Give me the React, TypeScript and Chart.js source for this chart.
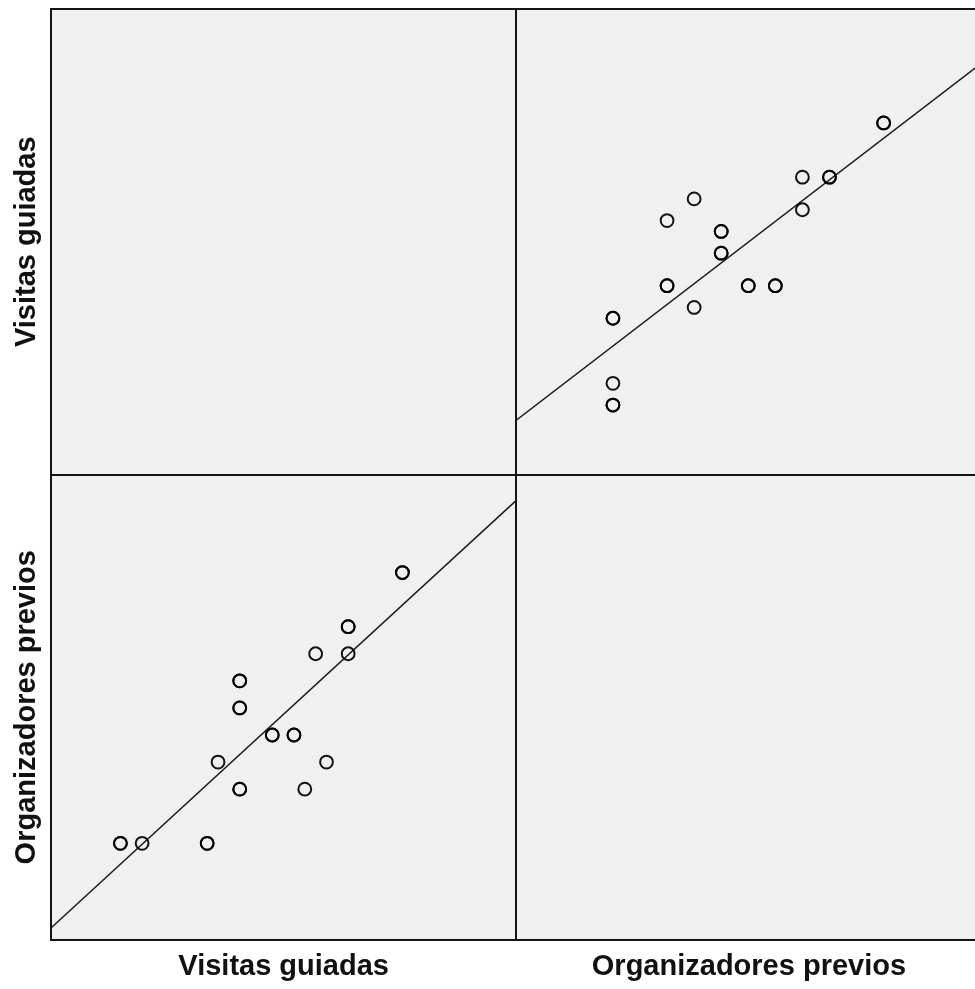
import React, { useEffect, useRef } from "react";
import { Chart, registerables } from "chart.js";

Chart.register(...registerables);

// Variable names (axis titles of the scatterplot matrix)
const variableNames = ["Visitas guiadas", "Organizadores previos"];

// One entry per case (overlapping cases are drawn on top of each other)
const visitasGuiadas = [0, 0, 2, 8, 8, 11, 11, 11, 11, 11, 11, 17, 9, 19, 14, 14, 16, 16, 18, 21, 21, 21, 26, 26];
const organizadoresPrevios = [0, 0, 0, 0, 0, 2, 2, 5, 5, 6, 6, 2, 3, 3, 4, 4, 4, 4, 7, 7, 8, 8, 10, 10];

// Axis ranges of each variable
const visitasRange = [-6.4, 36.5];
const organizadoresRange = [-3.57, 13.62];

function fitLine(xs: number[], ys: number[], range: number[]) {
  const n = xs.length;
  const mx = xs.reduce((s, v) => s + v, 0) / n;
  const my = ys.reduce((s, v) => s + v, 0) / n;
  let sxy = 0;
  let sxx = 0;
  for (let i = 0; i < n; i++) {
    sxy += (xs[i] - mx) * (ys[i] - my);
    sxx += (xs[i] - mx) * (xs[i] - mx);
  }
  const b = sxy / sxx;
  const a = my - b * mx;
  return range.map((x) => ({ x, y: a + b * x }));
}

const panelPlugin = {
  id: "panels",
  beforeDraw(chart: any) {
    const { ctx, chartArea: a } = chart;
    ctx.save();
    ctx.fillStyle = "#f0f0f0";
    ctx.fillRect(a.left, a.top, a.right - a.left, a.bottom - a.top);
    ctx.restore();
  },
  afterDraw(chart: any) {
    const { ctx, chartArea: a, scales } = chart;
    const l = Math.round(a.left);
    const t = Math.round(a.top);
    const r = Math.round(a.right);
    const b = Math.round(a.bottom);
    const midX = Math.round(scales.xOP.left + 0.01);
    const midY = Math.round(scales.yVG.bottom);
    ctx.save();
    ctx.strokeStyle = "#141414";
    ctx.lineWidth = 2;
    ctx.beginPath();
    ctx.rect(l, t, r - l, b - t);
    ctx.moveTo(midX, t);
    ctx.lineTo(midX, b);
    ctx.moveTo(l, midY);
    ctx.lineTo(r, midY);
    ctx.stroke();
    ctx.restore();
  },
};

const titleFont = { family: "'Liberation Sans', Arial, sans-serif", size: 29, weight: "bold" as const };

function xAxis(title: string, range: number[]) {
  return {
    type: "linear" as const,
    position: "bottom" as const,
    stack: "cols",
    stackWeight: 1,
    min: range[0],
    max: range[1],
    ticks: { display: false },
    grid: { display: false },
    border: { display: false },
    title: { display: true, text: title, color: "#111", font: titleFont, padding: { top: 0, bottom: 4.6 } },
    afterFit: (s: any) => {
      s.height = 49;
    },
  };
}

function yAxis(title: string, range: number[]) {
  return {
    type: "linear" as const,
    position: "left" as const,
    stack: "rows",
    stackWeight: 1,
    min: range[0],
    max: range[1],
    ticks: { display: false },
    grid: { display: false },
    border: { display: false },
    title: { display: true, text: title, color: "#111", font: titleFont, padding: { top: 9.3, bottom: 0 } },
    afterFit: (s: any) => {
      s.width = 51;
    },
  };
}

export default function App() {
  const ref = useRef<HTMLCanvasElement | null>(null);

  useEffect(() => {
    if (!ref.current) return;
    const pointStyle = {
      pointRadius: 6.4,
      pointBorderWidth: 2,
      pointBorderColor: "rgba(0,0,0,0.92)",
      pointBackgroundColor: "rgba(0,0,0,0)",
      showLine: false,
    };
    const lineStyle = {
      showLine: true,
      pointRadius: 0,
      borderColor: "#1e1e1e",
      borderWidth: 1.5,
      fill: false,
    };
    const chart = new Chart(ref.current, {
      type: "scatter",
      data: {
        datasets: [
          {
            label: `${variableNames[0]} vs ${variableNames[1]}`,
            data: organizadoresPrevios.map((op, i) => ({ x: op, y: visitasGuiadas[i] })),
            xAxisID: "xOP",
            yAxisID: "yVG",
            ...pointStyle,
          },
          {
            label: "fit 1",
            data: fitLine(organizadoresPrevios, visitasGuiadas, organizadoresRange),
            xAxisID: "xOP",
            yAxisID: "yVG",
            ...lineStyle,
          },
          {
            label: `${variableNames[1]} vs ${variableNames[0]}`,
            data: visitasGuiadas.map((vg, i) => ({ x: vg, y: organizadoresPrevios[i] })),
            xAxisID: "xVG",
            yAxisID: "yOP",
            ...pointStyle,
          },
          {
            label: "fit 2",
            data: fitLine(visitasGuiadas, organizadoresPrevios, visitasRange),
            xAxisID: "xVG",
            yAxisID: "yOP",
            ...lineStyle,
          },
        ] as any,
      },
      options: {
        responsive: false,
        animation: false,
        events: [],
        layout: { padding: { top: 9, right: 7, bottom: 0, left: 0 } },
        plugins: { legend: { display: false }, tooltip: { enabled: false } },
        scales: {
          xVG: xAxis(variableNames[0], visitasRange),
          xOP: xAxis(variableNames[1], organizadoresRange),
          yOP: yAxis(variableNames[1], organizadoresRange),
          yVG: yAxis(variableNames[0], visitasRange),
        } as any,
      },
      plugins: [panelPlugin],
    });
    return () => chart.destroy();
  }, []);

  return (
    <div
      style={{
        position: "fixed",
        left: 0,
        top: 0,
        width: 975,
        height: 989,
        overflow: "hidden",
        background: "#fff",
      }}
    >
      <canvas ref={ref} width={990} height={989} style={{ display: "block" }} />
    </div>
  );
}
